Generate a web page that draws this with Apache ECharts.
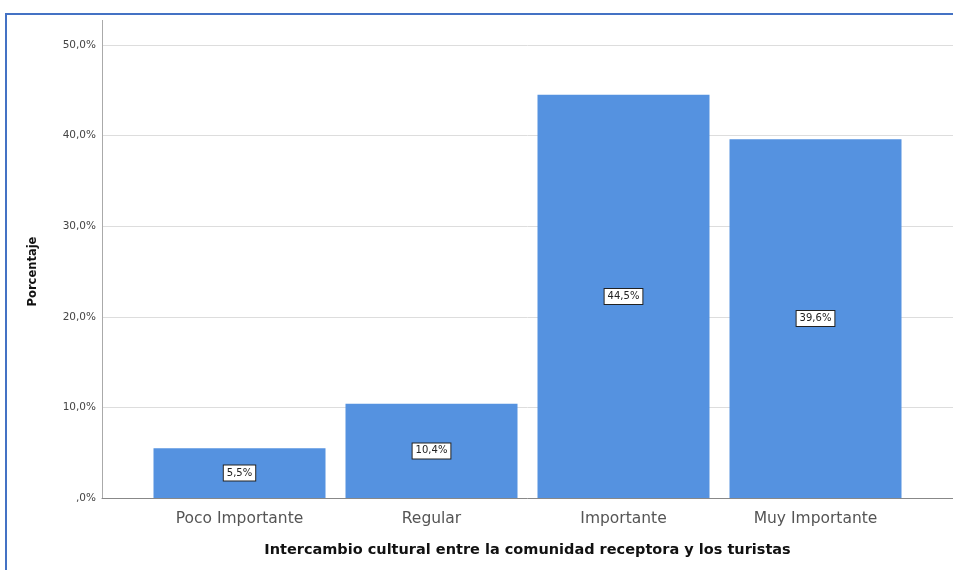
<!DOCTYPE html>
<html>
<head>
<meta charset="utf-8">
<script src="https://cdn.jsdelivr.net/npm/echarts@6/dist/echarts.min.js"></script>
<style>
html,body{margin:0;padding:0;background:#fff;}
#chart{width:953px;height:570px;}
</style>
</head>
<body>
<div id="chart"></div>
<script>
const categories = ['Poco Importante', 'Regular', 'Importante', 'Muy Importante'];
const percentages = [5.5, 10.4, 44.5, 39.6];
const yTicks = [0, 10, 20, 30, 40, 50];
const yTitle = 'Porcentaje';
const xTitle = 'Intercambio cultural entre la comunidad receptora y los turistas';

const fmt = v => (v === 0 ? ',0%' : v.toFixed(1).replace('.', ',') + '%');

const chart = echarts.init(document.getElementById('chart'));
chart.setOption({
  animation: false,
  textStyle: { fontFamily: 'DejaVu Sans, sans-serif' },
  graphic: [
    { type: 'line', shape: { x1: 5, y1: 14, x2: 953, y2: 14 }, style: { stroke: '#4472C4', lineWidth: 2 } },
    { type: 'line', shape: { x1: 6, y1: 13, x2: 6, y2: 570 }, style: { stroke: '#4472C4', lineWidth: 2 } },
    { type: 'line', shape: { x1: 102.5, y1: 20, x2: 102.5, y2: 45 }, style: { stroke: '#aaaaaa', lineWidth: 1 } }
  ],
  grid: [
    { left: 102, right: 0, top: 45, bottom: 72 },
    { left: 143.5, right: 41.5, top: 45, bottom: 72 }
  ],
  xAxis: [
    {
      gridIndex: 0, type: 'category', data: categories,
      axisLine: { lineStyle: { color: '#888888' } },
      axisTick: { show: false }, axisLabel: { show: false }
    },
    {
      gridIndex: 1, type: 'category', data: categories,
      axisLine: { show: false }, axisTick: { show: false },
      axisLabel: { color: '#555', fontSize: 15.5, margin: 13 },
      name: xTitle, nameLocation: 'middle', nameGap: 45,
      nameTextStyle: { color: '#111', fontSize: 14.5, fontWeight: 'bold' }
    }
  ],
  yAxis: [
    {
      gridIndex: 0, type: 'value', min: yTicks[0], max: yTicks[yTicks.length - 1], interval: 10,
      axisLine: { show: true, lineStyle: { color: '#aaaaaa' } },
      axisTick: { show: false },
      axisLabel: { color: '#444', fontSize: 10.5, margin: 6, formatter: fmt },
      splitLine: { lineStyle: { color: '#dddddd' } },
      name: yTitle, nameLocation: 'middle', nameGap: 63, nameRotate: 90,
      nameTextStyle: { color: '#111', fontSize: 11.5, fontWeight: 'bold' }
    },
    {
      gridIndex: 1, type: 'value', min: yTicks[0], max: yTicks[yTicks.length - 1], interval: 10,
      show: false, splitLine: { show: false }
    }
  ],
  series: [{
    type: 'bar', xAxisIndex: 1, yAxisIndex: 1,
    data: percentages, barWidth: 172,
    itemStyle: { color: '#5592E0' },
    label: {
      show: true, position: 'inside', formatter: p => fmt(p.value),
      color: '#222', fontSize: 10, backgroundColor: '#fff',
      borderColor: '#222', borderWidth: 1, padding: [3, 3, 2, 3]
    }
  }]
});
</script>
</body>
</html>
